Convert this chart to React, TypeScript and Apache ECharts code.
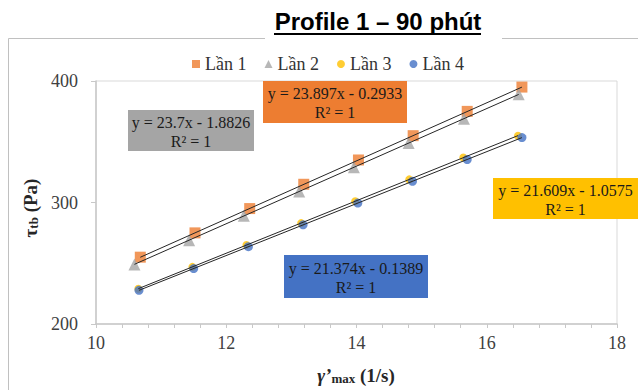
import React, { useEffect, useRef } from "react";
import * as echarts from "echarts";

// Shear rate (1/s) and shear stress (Pa) for each run
const seriesNames = ["Lần 1", "Lần 2", "Lần 3", "Lần 4"];
const lan1X = [10.68, 11.52, 12.36, 13.19, 14.03, 14.87, 15.7, 16.54];
const lan1Y = [255, 275, 295, 315, 335, 355, 375, 395];
const lan2X = [10.59, 11.43, 12.27, 13.12, 13.96, 14.8, 15.65, 16.49];
const lan2Y = [249, 269, 289, 309, 329, 349, 369, 389];
const lan3X = [10.65, 11.48, 12.31, 13.15, 13.98, 14.81, 15.64, 16.48];
const lan3Y = [229, 247, 265, 283, 301, 319, 337, 355];
const lan4X = [10.66, 11.5, 12.34, 13.18, 14.02, 14.86, 15.7, 16.54];
const lan4Y = [227.7, 245.6, 263.6, 281.6, 299.5, 317.5, 335.4, 353.4];

// Linear fits shown in the equation boxes
const slopes = [23.897, 23.7, 21.609, 21.374];
const intercepts = [-0.2933, -1.8826, -1.0575, -0.1389];
const equationTexts = [
  "y = 23.897x - 0.2933\nR² = 1",
  "y = 23.7x - 1.8826\nR² = 1",
  "y = 21.609x - 1.0575\nR² = 1",
  "y = 21.374x - 0.1389\nR² = 1",
];

const xTicks = { min: 10, max: 18, interval: 2 };
const yTicks = { min: 200, max: 400, interval: 100 };

const colors = ["#ED7D31", "#A5A5A5", "#FFC000", "#4472C4"];
const symbols = ["rect", "triangle", "circle", "circle"];
const symbolSizes = [11, 12, 8, 9];

const SERIF = "Liberation Serif";
const SANS = "Liberation Sans";

const xs = [lan1X, lan2X, lan3X, lan4X];
const ys = [lan1Y, lan2Y, lan3Y, lan4Y];

function zip(a: number[], b: number[]) {
  return a.map((v, i) => [v, b[i]]);
}

function trend(i: number) {
  const lo = Math.min(...xs[i]);
  const hi = Math.max(...xs[i]);
  return [
    [lo, slopes[i] * lo + intercepts[i]],
    [hi, slopes[i] * hi + intercepts[i]],
  ];
}

// Equation box placement (x, y, width, height)
const boxes = [
  { x: 263, y: 81, w: 144, h: 42 },
  { x: 128, y: 110, w: 126, h: 41 },
  { x: 493, y: 178, w: 145, h: 41 },
  { x: 284, y: 255, w: 144, h: 43 },
];

const axisTitleRich = (main: string) => ({
  [main]: { fontFamily: SERIF, fontSize: 19, fontWeight: "bold", fill: "#262626", lineHeight: 24, verticalAlign: "bottom" },
  s: { fontFamily: SERIF, fontSize: 13, fontWeight: "bold", fill: "#262626", lineHeight: 14, verticalAlign: "bottom" },
  b: { fontFamily: SERIF, fontSize: 19, fontWeight: "bold", fill: "#262626", lineHeight: 24, verticalAlign: "bottom" },
});

export default function App() {
  const ref = useRef<HTMLDivElement>(null);

  useEffect(() => {
    if (!ref.current) return;
    const chart = echarts.init(ref.current, null, { renderer: "svg" });

    const scatterSeries = seriesNames.map((name, i) => ({
      name,
      type: "scatter",
      data: zip(xs[i], ys[i]),
      symbol: symbols[i],
      symbolSize: symbolSizes[i],
      itemStyle: { color: colors[i] },
      z: 2,
    }));

    const trendSeries = seriesNames.map((name, i) => ({
      name: name + " trend",
      type: "line",
      data: trend(i),
      symbol: "none",
      lineStyle: { color: "#262626", width: 1 },
      z: 3,
      silent: true,
    }));

    const boxGraphics = boxes.map((b, i) => ({
      type: "group",
      z: 10,
      children: [
        {
          type: "rect",
          shape: { x: b.x, y: b.y, width: b.w, height: b.h },
          style: { fill: colors[i] },
        },
        {
          type: "text",
          style: {
            text: equationTexts[i],
            x: b.x + b.w / 2,
            y: b.y + b.h / 2 + 1,
            align: "center",
            verticalAlign: "middle",
            fontFamily: SERIF,
            fontSize: 16,
            lineHeight: 19,
            fill: "#1a1a1a",
          },
        },
      ],
    }));

    const gRich = axisTitleRich("g");
    (gRich as any).g.fontStyle = "italic";

    chart.setOption({
      animation: false,
      backgroundColor: "#fff",
      grid: {
        left: 96,
        right: 21,
        top: 81,
        bottom: 66,
        show: true,
        borderColor: "#D9D9D9",
        borderWidth: 1,
      },
      legend: {
        data: seriesNames.map((n, i) => ({ name: n, icon: symbols[i] })),
        left: 187,
        top: 50,
        itemWidth: 8,
        itemHeight: 8,
        itemGap: 18,
        textStyle: { fontFamily: SERIF, fontSize: 18, color: "#333" },
      },
      xAxis: {
        type: "value",
        min: xTicks.min,
        max: xTicks.max,
        interval: xTicks.interval,
        splitLine: { show: false },
        axisLine: { lineStyle: { color: "#C8C8C8", width: 1.5 } },
        axisTick: { show: true, inside: false, length: 4, lineStyle: { color: "#C8C8C8" } },
        minorTick: { show: true, splitNumber: 5, length: 4, lineStyle: { color: "#C8C8C8" } },
        axisLabel: { fontFamily: SERIF, fontSize: 18, color: "#404040", margin: 10 },
      },
      yAxis: {
        type: "value",
        min: yTicks.min,
        max: yTicks.max,
        interval: yTicks.interval,
        splitLine: { show: false },
        axisLine: { show: true, lineStyle: { color: "#C8C8C8", width: 1.5 } },
        axisTick: { show: true, inside: false, length: 5, lineStyle: { color: "#C8C8C8" } },
        axisLabel: { fontFamily: SERIF, fontSize: 18, color: "#404040", margin: 18 },
      },
      series: [...scatterSeries, ...trendSeries],
      graphic: [
        // outer chart frame, broken by the title
        {
          type: "polyline",
          shape: { points: [[265, 38.5], [8.5, 38.5], [8.5, 392]] },
          style: { stroke: "#C0C0C0", lineWidth: 1, fill: "none" },
        },
        {
          type: "line",
          shape: { x1: 502, y1: 38.5, x2: 640, y2: 38.5 },
          style: { stroke: "#C0C0C0", lineWidth: 1 },
        },
        {
          type: "text",
          style: {
            text: "Profile 1 – 90 phút",
            x: 378,
            y: 21,
            align: "center",
            verticalAlign: "middle",
            fontFamily: SANS,
            fontWeight: "bold",
            fontSize: 24,
            fill: "#000",
          },
        },
        {
          type: "line",
          shape: { x1: 274, y1: 34, x2: 481, y2: 34 },
          style: { stroke: "#000", lineWidth: 2 },
        },
        // axis titles
        {
          type: "text",
          x: 356,
          y: 373,
          style: {
            text: "{g|γ’}{s|max}{b| (1/s)}",
            align: "center",
            verticalAlign: "middle",
            rich: gRich,
          },
        },
        {
          type: "text",
          x: 28,
          y: 208,
          rotation: Math.PI / 2,
          style: {
            text: "{t|τ}{s|tb}{b| (Pa)}",
            align: "center",
            verticalAlign: "middle",
            rich: axisTitleRich("t"),
          },
        },
        ...boxGraphics,
      ],
    });

    return () => chart.dispose();
  }, []);

  return <div ref={ref} style={{ width: 638, height: 390, position: "absolute", left: 0, top: 0 }} />;
}
